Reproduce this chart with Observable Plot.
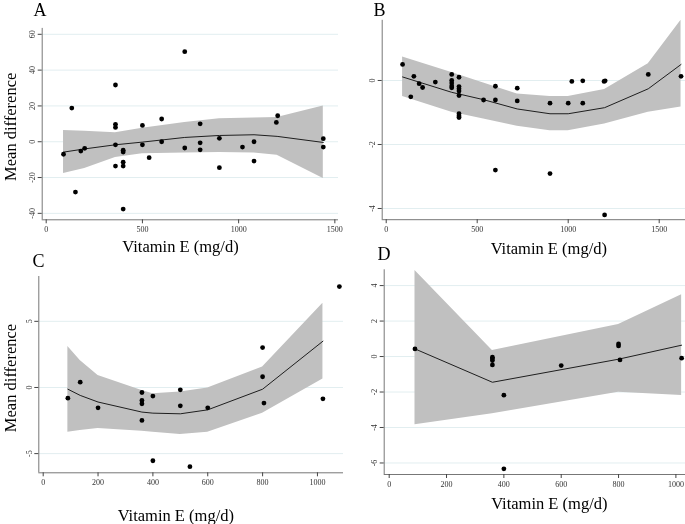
<!DOCTYPE html>
<html><head><meta charset="utf-8">
<script src="https://cdn.jsdelivr.net/npm/d3@7"></script>
<script src="https://cdn.jsdelivr.net/npm/@observablehq/plot@0.6"></script>
<style>
body{margin:0;background:#fff;}
#wrap{position:relative;width:685px;height:524px;overflow:hidden;background:#fff;}
#wrap svg{will-change:transform;-webkit-font-smoothing:antialiased;}
</style></head><body><div id="wrap"></div>
<script>
const xTitle = "Vitamin E (mg/d)";
const yTitle = "Mean difference";

// Panel A
const aX = [90,133,152,180,200,360,360,360,360,360,400,400,400,400,400,500,500,535,600,600,720,720,800,800,800,900,900,1020,1080,1080,1196,1203,1440,1440];
const aY = [-7,18.8,-28.1,-5.2,-3.7,31.7,9.7,8,-1.7,-13.6,-4.7,-5.8,-11.4,-13.6,-37.6,9.1,-1.7,-8.9,12.7,0,50.3,-3.5,10,-0.6,-4.5,1.9,-14.5,-3,0,-10.8,10.8,14.5,1.7,-3];
const aFitX = [90,200,360,500,720,900,1080,1200,1440];
const aFit  = [-5.8,-4.0,-1.7,-0.2,2.4,3.5,3.9,3.0,-0.4];
const aLo   = [-17.7,-15,-8.8,-6.7,-6.3,-6.0,-6.3,-7.6,-20.5];
const aHi   = [6.3,5.8,5.0,7.6,10.8,12.9,13.2,13.6,19.9];
const aXTicks = [0,500,1000,1500];
const aYTicks = [-40,-20,0,20,40,60];

// Panel B
const bX = [90,135,152,181,200,270,360,360,360,360,360,400,400,400,400,400,400,400,400,535,600,600,600,720,720,900,900,1000,1020,1080,1080,1197,1203,1200,1440,1620];
const bY = [0.50,-0.51,0.13,-0.10,-0.22,-0.05,0.19,0,-0.08,-0.17,-0.23,0.10,-0.19,-0.26,-0.33,-0.47,-1.04,-1.11,-1.16,-0.61,-0.18,-0.61,-2.80,-0.24,-0.64,-0.71,-2.91,-0.71,-0.03,-0.01,-0.71,-0.03,-0.01,-4.20,0.19,0.13];
const bFitX = [90,360,535,720,900,1000,1200,1440,1620];
const bFit  = [0.11,-0.37,-0.6,-0.89,-1.04,-1.04,-0.85,-0.26,0.5];
const bLo   = [-0.5,-0.99,-1.2,-1.43,-1.57,-1.57,-1.36,-0.99,-0.83];
const bHi   = [0.73,0.25,-0.08,-0.42,-0.5,-0.5,-0.28,0.52,1.88];
const bXTicks = [0,500,1000,1500];
const bYTicks = [-4,-2,0];

// Panel C
const cX = [90,135,200,360,360,360,360,400,400,500,500,535,600,800,800,805,1020,1080];
const cY = [-0.81,0.40,-1.54,-0.38,-0.98,-1.23,-2.49,-0.65,-5.54,-0.18,-1.39,-5.99,-1.54,3.02,0.81,-1.18,-0.86,7.63];
const cFitX = [90,135,200,360,400,500,600,800,1020];
const cFit  = [-0.13,-0.6,-1.1,-1.86,-1.94,-1.99,-1.69,-0.13,3.5];
const cLo   = [-3.38,-3.25,-3.1,-3.3,-3.38,-3.55,-3.38,-1.94,0.65];
const cHi   = [3.1,2.04,0.91,-0.23,-0.48,-0.35,-0.03,1.54,6.37];
const cXTicks = [0,200,400,600,800,1000];
const cYTicks = [-5,0,5];

// Panel D
const dX = [90,360,360,360,360,400,400,600,800,800,805,1020];
const dY = [0.43,-0.04,-0.13,-0.23,-0.47,-2.18,-6.33,-0.51,0.71,0.60,-0.19,-0.09];
const dFitX = [90,360,800,1020];
const dFit  = [0.43,-1.45,-0.15,0.64];
const dLo   = [-3.85,-3.23,-2.01,-2.2];
const dHi   = [4.85,0.34,1.8,3.48];
const dXTicks = [0,200,400,600,800,1000];
const dYTicks = [-6,-4,-2,0,2,4];

const FONT = '"Liberation Serif","Times New Roman",serif';
const fmt = d => String(d);

function panel(c) {
  const pts = c.xs.map((x, i) => ({x, y: c.ys[i]}));
  const fit = c.fx.map((x, i) => ({x, y: c.fy[i], lo: c.flo[i], hi: c.fhi[i]}));
  const rel = ([ax, ay]) => ({dx: ax - c.left - c.ml, dy: ay - c.top - c.mt});
  const marks = [
    Plot.gridY({ticks: c.yticks, stroke: "#e2eef0", strokeOpacity: 1}),
    Plot.areaY(fit, {x: "x", y1: "lo", y2: "hi", fill: "#c0c0c0"}),
    Plot.line(fit, {x: "x", y: "y", stroke: "#1e1e1e", strokeWidth: 1}),
    Plot.dot(pts, {x: "x", y: "y", r: 2.4, fill: "#000", stroke: null}),
    Plot.ruleX([c.xdom[0]], {stroke: "#777"}),
    Plot.ruleY([c.ydom[0]], {stroke: "#777"}),
    Plot.axisX({ticks: c.xticks, tickFormat: fmt, tickSize: 4, tickPadding: 3, stroke: "#444", fill: "#333", label: null, fontSize: 8}),
    Plot.axisY({ticks: c.yticks, tickFormat: fmt, tickSize: 4, tickPadding: 3, tickRotate: -90, stroke: "#444", fill: "#333", label: null, fontSize: 8}),
    Plot.text([c.letter], {frameAnchor: "top-left", ...rel(c.letterAt), textAnchor: "start", lineAnchor: "bottom", fontSize: 18, fill: "#000"}),
    Plot.text([xTitle], {frameAnchor: "top-left", ...rel(c.xTitleAt), textAnchor: "middle", lineAnchor: "bottom", fontSize: 16.5, fill: "#000"})
  ];
  if (c.yTitleAt) marks.push(Plot.text([yTitle], {frameAnchor: "top-left", ...rel(c.yTitleAt), rotate: -90, textAnchor: "middle", lineAnchor: "bottom", fontSize: 16.5, fill: "#000"}));
  const svg = Plot.plot({
    width: c.width, height: c.height,
    marginLeft: c.ml, marginRight: c.mr, marginTop: c.mt, marginBottom: c.mb,
    x: {domain: c.xdom}, y: {domain: c.ydom},
    style: {fontFamily: FONT, fontSize: "8px", background: "transparent", overflow: "visible", color: "#333"},
    marks
  });
  svg.style.position = "absolute";
  svg.style.left = c.left + "px";
  svg.style.top = c.top + "px";
  document.getElementById("wrap").appendChild(svg);
}

panel({left: 0, top: 0, width: 342, height: 262, ml: 41.7, mr: 4, mt: 27.9, mb: 42.7,
  xdom: [-20.8, 1519], ydom: [-43.6, 63.3], xticks: aXTicks, yticks: aYTicks,
  xs: aX, ys: aY, fx: aFitX, fy: aFit, flo: aLo, fhi: aHi,
  letter: "A", letterAt: [33, 15.7], xTitleAt: [180, 251.5], yTitleAt: [15, 126.3]});

panel({left: 342, top: 0, width: 343, height: 262, ml: 39.7, mr: 0, mt: 19.8, mb: 42.8,
  xdom: [-22, 1644.5], ydom: [-4.35, 1.88], xticks: bXTicks, yticks: bYTicks,
  xs: bX, ys: bY, fx: bFitX, fy: bFit, flo: bLo, fhi: bHi,
  letter: "B", letterAt: [373, 15], xTitleAt: [548.3, 253]});

panel({left: 0, top: 262, width: 345, height: 262, ml: 38.3, mr: 2, mt: 14, mb: 51.7,
  xdom: [-16, 1095], ydom: [-6.45, 8.39], xticks: cXTicks, yticks: cYTicks,
  xs: cX, ys: cY, fx: cFitX, fy: cFit, flo: cLo, fhi: cHi,
  letter: "C", letterAt: [32, 266.5], xTitleAt: [175.3, 520], yTitleAt: [15, 377.5]});

panel({left: 342, top: 262, width: 343, height: 262, ml: 41.7, mr: 0, mt: 7.3, mb: 50,
  xdom: [-17.4, 1033.5], ydom: [-6.65, 4.89], xticks: dXTicks, yticks: dYTicks,
  xs: dX, ys: dY, fx: dFitX, fy: dFit, flo: dLo, fhi: dHi,
  letter: "D", letterAt: [377, 259], xTitleAt: [548.8, 508.3]});
</script>
</body></html>
